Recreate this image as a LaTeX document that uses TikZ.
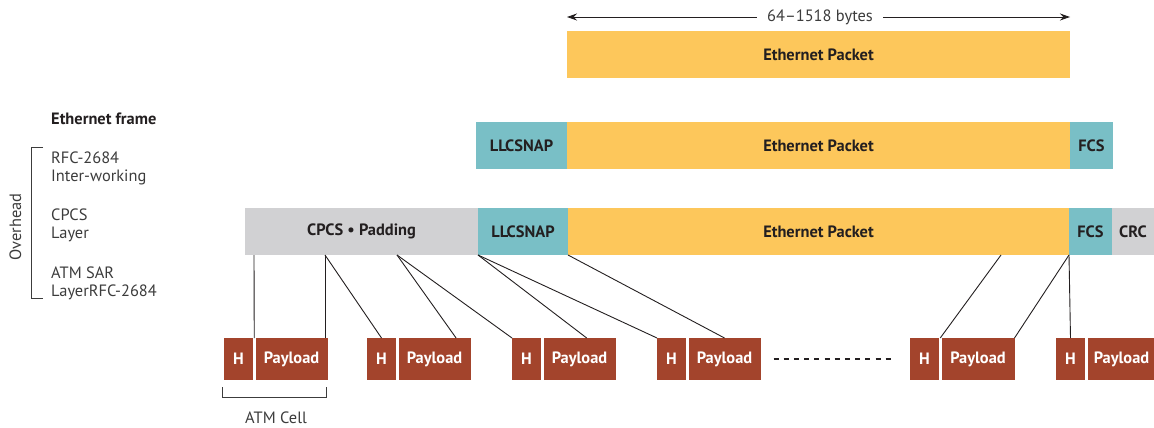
\documentclass[tikz,border=0pt]{standalone}
\usepackage{fontspec}
\setmainfont{PT Sans}
\usetikzlibrary{calc,arrows.meta}
\definecolor{ethY}{HTML}{FDC75B}
\definecolor{llcT}{HTML}{79BFC6}
\definecolor{padG}{HTML}{D1D1D3}
\definecolor{cellR}{HTML}{A3442C}
\definecolor{txtD}{HTML}{231F20}
\definecolor{txtG}{HTML}{3C3C3C}
\definecolor{lineC}{HTML}{231F20}
\tikzset{
  blk/.style={anchor=north west, inner sep=0pt, outer sep=0pt, minimum height=47pt,
     font=\fontsize{16.4}{19}\selectfont\bfseries, text=txtD},
  cellbox/.style={anchor=north west, inner sep=0pt, outer sep=0pt, minimum height=42pt,
     fill=cellR, font=\fontsize{16.4}{19}\selectfont\bfseries, text=white},
  lbl/.style={anchor=west, inner sep=0pt, font=\fontsize{16.4}{19}\selectfont, text=txtG},
  conn/.style={draw=lineC, line width=0.9pt},
}
\begin{document}
\begin{tikzpicture}[x=1pt,y=-1pt]
\useasboundingbox (0,0) rectangle (1154,428);
% top row
\node[blk, fill=ethY, minimum width=503pt] (eth1) at (567,31) {Ethernet Packet};
\node[inner sep=0pt, font=\fontsize{16.4}{19}\selectfont, text=txtG] (bytes) at (820,17) {64--1518 bytes};
\coordinate (arrL) at (567,17);
\coordinate (arrR) at (1070,17);
\draw[line width=0.9pt, draw=lineC, -{Stealth[length=10pt,width=7pt]}] ($(bytes.west)+(-10,0)$) -- (arrL);
\draw[line width=0.9pt, draw=lineC, -{Stealth[length=10pt,width=7pt]}] ($(bytes.east)+(10,0)$) -- (arrR);
% second row
\node[blk, fill=llcT, minimum width=91pt] (llc2) at (476,122) {LLCSNAP};
\node[blk, fill=ethY, minimum width=503pt] (eth2) at (567,122) {Ethernet Packet};
\node[blk, fill=llcT, minimum width=43pt] (fcs2) at (1070,122) {FCS};
% third row
\node[blk, fill=padG, minimum width=233pt] (pad3) at (245,208) {CPCS \textbullet\ Padding};
\node[blk, fill=llcT, minimum width=90pt] (llc3) at (478,208) {LLCSNAP};
\node[blk, fill=ethY, minimum width=501pt] (eth3) at (568,208) {Ethernet Packet};
\node[blk, fill=llcT, minimum width=43pt] (fcs3) at (1069,208) {FCS};
\node[blk, fill=padG, minimum width=42pt] (crc3) at (1112,208) {CRC};
% cells
\foreach \i/\x/\w in {1/224/72, 2/367/72, 3/512/72, 4/657/72, 5/910/73, 6/1056/68}{
  \node[cellbox, minimum width=29pt] (h\i) at (\x,338) {H};
  \node[cellbox, minimum width=\w pt] (p\i) at ($(h\i.north east)+(2.5,0)$) {Payload};
}
% connectors
\coordinate (t1) at ($(pad3.south west)+(9,0)$);
\coordinate (t2) at ($(pad3.south west)+(80,0)$);
\coordinate (t3) at ($(pad3.south west)+(152,0)$);
\coordinate (t4) at ($(eth3.south west)+(433,0)$);
\draw[conn] (t1) -- ($(h1.north east)!0.5!(p1.north west)$);
\draw[conn] (t2) -- ($(p1.north east)+(-2.5,0)$);
\draw[conn] (t2) -- (h2.north);
\draw[conn] (t3) -- ($(p2.north west)!0.8!(p2.north east)$);
\draw[conn] (t3) -- (h3.north west);
\draw[conn] (llc3.south west) -- ($(p3.north west)!0.6!(p3.north east)$);
\draw[conn] (llc3.south west) -- (h4.north west);
\draw[conn] (eth3.south west) -- (p4.north);
\draw[conn] (t4) -- ($(h5.north east)!0.5!(p5.north west)$);
\draw[conn] (fcs3.south west) -- (p5.north east);
\draw[conn] (fcs3.south west) -- (h6.north);
% dots between cells
\coordinate (dA) at ($(p4.east)+(13,0)$);
\coordinate (dB) at ($(h5.west)+(-15,0)$);
\draw[draw=txtD, line width=2pt, dash pattern=on 5pt off 5.2pt] (dA) -- (dB);
% ATM cell bracket
\coordinate (bA) at (222,387);
\coordinate (bB) at (326,387);
\draw[draw=txtG, line width=0.8pt] (bA) -- ++(0,10) -| (bB);
\node[inner sep=0pt, font=\fontsize{16.4}{19}\selectfont, text=txtG] (atm) at (276,418) {ATM Cell};
% left labels
\node[lbl, font=\fontsize{16.4}{19}\selectfont\bfseries, text=txtD] (ef) at (51,119) {Ethernet frame};
\node[lbl] (l1) at (51,158) {RFC-2684};
\node[lbl] (l2) at (51,177) {Inter-working};
\node[lbl] (l3) at (51,215) {CPCS};
\node[lbl] (l4) at (51,234) {Layer};
\node[lbl] (l5) at (51,273) {ATM SAR};
\node[lbl] (l6) at (51,292) {LayerRFC-2684};
\coordinate (oA) at (43,147);
\coordinate (oB) at (43,298);
\draw[draw=txtG, line width=0.8pt] (oA) -- ++(-12,0) |- (oB);
\node[inner sep=0pt, rotate=90, font=\fontsize{16.4}{19}\selectfont, text=txtG] (ovh) at (15.5,227) {Overhead};
\end{tikzpicture}
\end{document}
